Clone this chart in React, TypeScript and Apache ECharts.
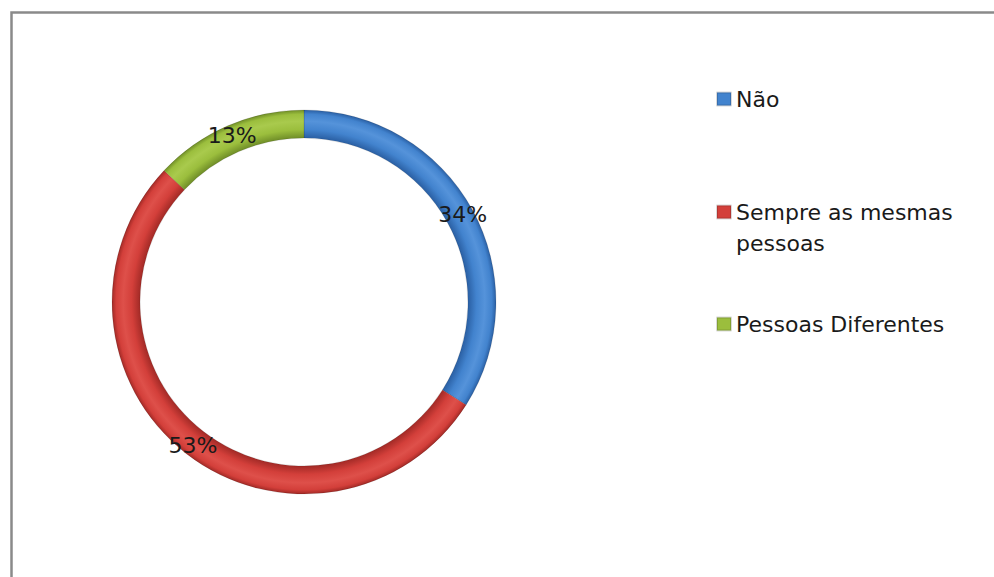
import React, { useEffect, useRef } from "react";
import * as echarts from "echarts";

const categories = ["Não", "Sempre as mesmas pessoas", "Pessoas Diferentes"];
const values = [34, 53, 13];
const legendLabels = ["Não", "\nSempre as mesmas\npessoas", "Pessoas Diferentes"];

const CX = 304;
const CY = 302;
const R_OUT = 192;
const R_IN = 164;

const palette = [
  { mid: "#4283CE", light: "#5593DA", dark: "#2A5FA3" },
  { mid: "#D33F3A", light: "#DE504A", dark: "#A22A26" },
  { mid: "#9BBE3D", light: "#A9CA4D", dark: "#708E28" },
];

function ringGradient(p: { mid: string; light: string; dark: string }) {
  const f = R_IN / R_OUT;
  return {
    type: "radial",
    x: CX,
    y: CY,
    r: R_OUT,
    global: true,
    colorStops: [
      { offset: 0, color: p.dark },
      { offset: f, color: p.dark },
      { offset: f + (1 - f) * 0.3, color: p.mid },
      { offset: f + (1 - f) * 0.6, color: p.light },
      { offset: f + (1 - f) * 0.85, color: p.mid },
      { offset: 1, color: p.dark },
    ],
  };
}

const FONT = "'DejaVu Sans', 'Noto Sans', sans-serif";
const LH = 31;

export default function App() {
  const ref = useRef<HTMLDivElement>(null);
  useEffect(() => {
    if (!ref.current) return;
    const chart = echarts.init(ref.current, undefined, { renderer: "svg" });
    const legendTops = [99 - LH / 2, 212 - LH * 1.5, 324 - LH / 2];
    const legends = categories.map((name, i) => ({
      orient: "vertical",
      left: 716,
      top: legendTops[i],
      icon: "rect",
      itemWidth: 14,
      itemHeight: 13,
      padding: 0,
      data: [{ name, itemStyle: { color: palette[i].mid } }],
      formatter: () => legendLabels[i],
      textStyle: {
        fontFamily: FONT,
        fontSize: 22,
        color: "#1a1a1a",
        lineHeight: LH,
      },
    }));
    chart.setOption({
      animation: false,
      backgroundColor: "#ffffff",
      graphic: [
        {
          type: "rect",
          shape: { x: 11.5, y: 12.5, width: 1100, height: 700 },
          style: { fill: "none", stroke: "#8a8a8a", lineWidth: 2.5 },
          silent: true,
        },
      ],
      legend: legends,
      series: [
        {
          type: "pie",
          center: [CX, CY],
          radius: [R_IN, R_OUT],
          startAngle: 90,
          clockwise: true,
          avoidLabelOverlap: false,
          itemStyle: { borderColor: "rgba(0,0,0,0.15)", borderWidth: 0.8 },
          label: {
            show: true,
            position: "inside",
            formatter: "{c}%",
            fontFamily: FONT,
            fontSize: 22,
            color: "#1a1a1a",
          },
          labelLine: { show: false },
          emphasis: { disabled: true },
          data: categories.map((name, i) => ({
            name,
            value: values[i],
            itemStyle: { color: ringGradient(palette[i]) },
          })),
        },
      ],
    });
    return () => chart.dispose();
  }, []);
  return (
    <div
      ref={ref}
      style={{ position: "fixed", left: 0, top: 0, width: 994, height: 577, background: "#fff" }}
    />
  );
}
